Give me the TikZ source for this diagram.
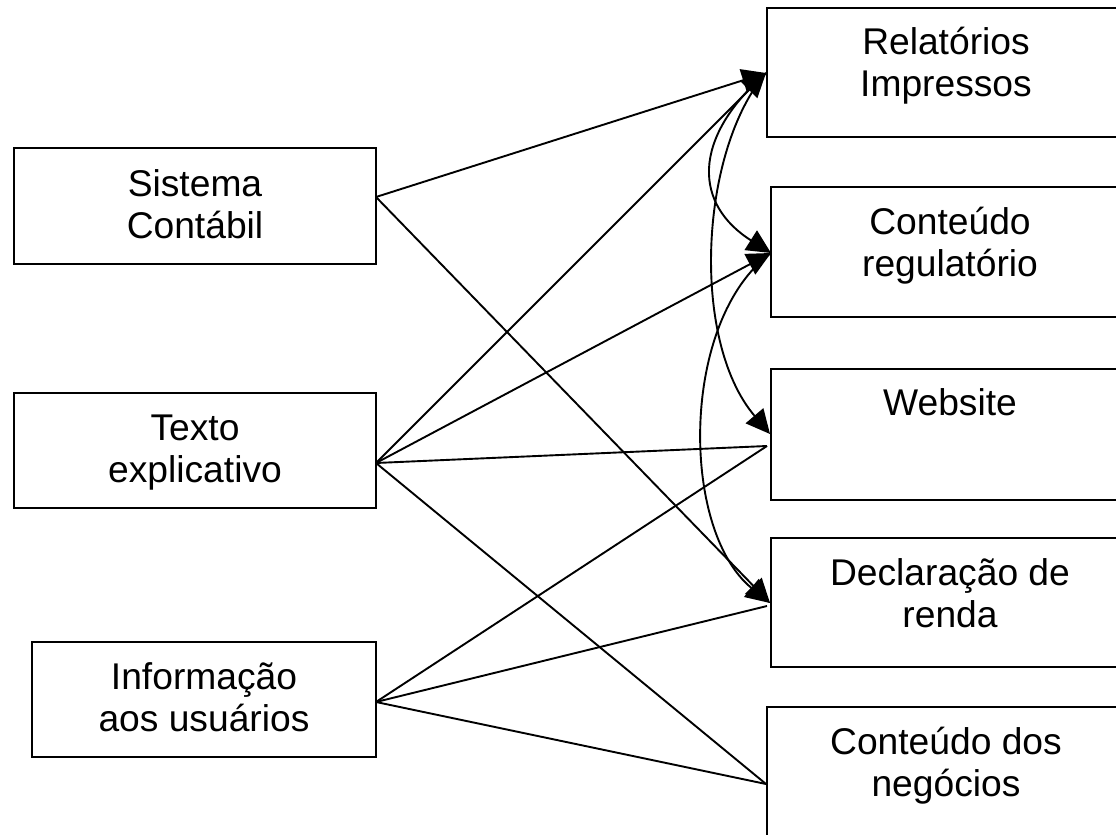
\documentclass[tikz,border=0pt]{standalone}
\usepackage{fontspec}
\setmainfont{Liberation Sans}
\usetikzlibrary{arrows.meta,fit}
\begin{document}
\begin{tikzpicture}[x=0.5pt,y=-0.5pt,
  box/.style={draw,line width=1pt,inner sep=0pt,outer sep=0pt,rectangle},
  lbl/.style={align=center,inner sep=0pt,font=\fontsize{18.6}{20.8}\selectfont},
  conn/.style={line width=0.95pt},
  arr/.style={conn,-{Triangle[length=12pt,width=11.5pt]}},
  ]
\useasboundingbox (0,0) rectangle (1116,835);
% left boxes
\node[box,fit={(14,148) (376,264)}] (sis) {};
\node[box,fit={(14,393) (376,508)}] (tex) {};
\node[box,fit={(32,642) (376,757)}] (inf) {};
% right boxes
\node[box,fit={(767,8) (1126,137)}] (rel) {};
\node[box,fit={(771,187) (1130,317)}] (reg) {};
\node[box,fit={(771,369) (1130,500)}] (web) {};
\node[box,fit={(771,538) (1130,667)}] (dec) {};
\node[box,fit={(767,707) (1126,860)}] (neg) {};
% labels (base = baseline of last line)
\node[lbl,anchor=base] (sisT) at (195,238.5) {Sistema\\Contábil};
\node[lbl,anchor=base] (texT) at (195,482.5) {Texto\\explicativo};
\node[lbl,anchor=base] (infT) at (204,731.5) {Informação\\aos usuários};
\node[lbl,anchor=base] (relT) at (946,96.5) {Relatórios\\Impressos};
\node[lbl,anchor=base] (regT) at (950,276.5) {Conteúdo\\regulatório};
\node[lbl,anchor=base] (webT) at (950,415) {Website};
\node[lbl,anchor=base] (decT) at (950,627.5) {Declaração de\\renda};
\node[lbl,anchor=base] (negT) at (946,796.5) {Conteúdo dos\\negócios};
% connection points
\coordinate (sisP) at (376,197);
\coordinate (texP) at (376,463);
\coordinate (infP) at (376,702);
\coordinate (relP) at (766,73);
\coordinate (regP) at (771,253);
\coordinate (webA) at (770,434);
\coordinate (webP) at (767,446);
\coordinate (decA) at (770,603);
\coordinate (decP) at (767,606);
\coordinate (negP) at (766,784);
% straight connectors
\draw[arr] (sisP) -- (relP);
\draw[arr] (sisP) -- (decA);
\draw[arr] (texP) -- (relP);
\draw[arr] (texP) -- (regP);
\draw[conn] (texP) -- (webP);
\draw[conn] (texP) -- (negP);
\draw[conn] (infP) -- (webP);
\draw[conn] (infP) -- (decP);
\draw[conn] (infP) -- (negP);
% curved connectors
\draw[arr] (relP) .. controls (690,140) and (695,205) .. (regP);
\draw[arr] (relP) .. controls (700,150) and (690,340) .. (webA);
\draw[arr] (regP) .. controls (680,320) and (680,530) .. (decA);
\end{tikzpicture}
\end{document}
